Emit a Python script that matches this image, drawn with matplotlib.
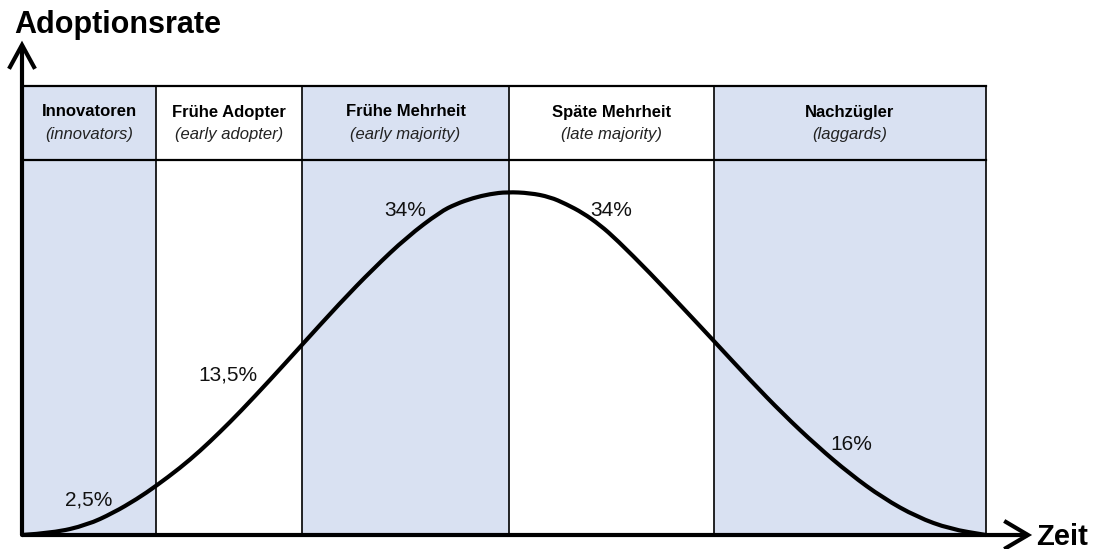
import matplotlib.pyplot as plt
from matplotlib.path import Path
from matplotlib.patches import PathPatch

plt.rcParams['font.family'] = ['Liberation Sans', 'DejaVu Sans']

# adopter groups (German name, English name, share)
groups = ["Innovatoren", "Frühe Adopter", "Frühe Mehrheit", "Späte Mehrheit", "Nachzügler"]
groups_en = ["(innovators)", "(early adopter)", "(early majority)", "(late majority)", "(laggards)"]
shares = ["2,5%", "13,5%", "34%", "34%", "16%"]

# group boundaries along the time axis
bounds = [0, 134, 280, 487, 692, 964]

# adoption curve (time, rate)
curve_x = [0, 31, 65, 91, 115, 134, 158, 178, 198, 218, 248, 278, 318, 351,
           385, 418, 434, 451, 468, 485, 508, 528, 544, 561, 578, 595, 628,
           661, 691, 728, 761, 795, 828, 861, 895, 928, 964]
curve_y = [0, 2, 10, 22, 36, 49, 67, 84, 103, 123, 155, 188, 232, 266,
           298, 323, 331, 337, 341, 343, 342, 338, 331, 322, 310, 295, 262,
           227, 195, 155, 121, 89, 61, 37, 18, 6, 0]

# label positions for the shares
share_x = [67, 206, 383, 589, 829]
share_y = [35, 160, 324, 324, 91]

table_top = 449
header_bottom = 375
fill = '#D9E1F2'

fig = plt.figure(figsize=(11.02, 5.49), dpi=100)
ax = fig.add_axes([0, 0, 1, 1])
ax.set_xlim(-22, 1080)
ax.set_ylim(-14, 535)
ax.axis('off')

# shaded columns
for i in range(len(groups)):
    if i % 2 == 0:
        ax.fill_between([bounds[i], bounds[i + 1]], 0, table_top, color=fill, lw=0, zorder=0)

# table grid
ax.plot([bounds[0], bounds[-1]], [table_top, table_top], color='black', lw=1.6, zorder=2)
ax.plot([bounds[0], bounds[-1]], [header_bottom, header_bottom], color='black', lw=1.6, zorder=2)
for b in bounds[1:]:
    ax.plot([b, b], [0, table_top], color='black', lw=1.2, zorder=2)

# header texts
for i, (g, e) in enumerate(zip(groups, groups_en)):
    cx = (bounds[i] + bounds[i + 1]) / 2
    ax.text(cx, 423, g, ha='center', va='center', fontsize=12, fontweight='bold')
    ax.text(cx, 400, e, ha='center', va='center', fontsize=12, style='italic', color='#222222')

# curve: read points used as quadratic bezier control points for a smooth line
pts = list(zip(curve_x, curve_y))
verts = [pts[0]]
codes = [Path.MOVETO]
for i in range(1, len(pts) - 1):
    mid = ((pts[i][0] + pts[i + 1][0]) / 2, (pts[i][1] + pts[i + 1][1]) / 2)
    verts += [pts[i], mid]
    codes += [Path.CURVE3, Path.CURVE3]
verts.append(pts[-1])
codes.append(Path.LINETO)
ax.add_patch(PathPatch(Path(verts, codes), fill=False, edgecolor='black', lw=3,
                       capstyle='round', joinstyle='round', zorder=3))

# share labels
for s, x, y in zip(shares, share_x, share_y):
    ax.text(x, y, s, ha='center', va='center', fontsize=15, color='#111111')

# axes with open arrow heads
ax.plot([0, 0], [0, 490], color='black', lw=3, solid_capstyle='butt', zorder=4)
ax.plot([0, 1006], [0, 0], color='black', lw=3, solid_capstyle='butt', zorder=4)
ax.plot([-12, 0, 12], [468, 490, 468], color='black', lw=3,
        solid_joinstyle='miter', zorder=4)
ax.plot([984, 1006, 984], [13, 0, -13], color='black', lw=3,
        solid_joinstyle='miter', zorder=4)

# axis titles
ax.text(-8, 510, "Adoptionsrate", ha='left', va='center', fontsize=22, fontweight='bold')
ax.text(1014, -10, "Zeit", ha='left', va='baseline', fontsize=21, fontweight='bold')

fig.savefig('out.png', dpi=100)
